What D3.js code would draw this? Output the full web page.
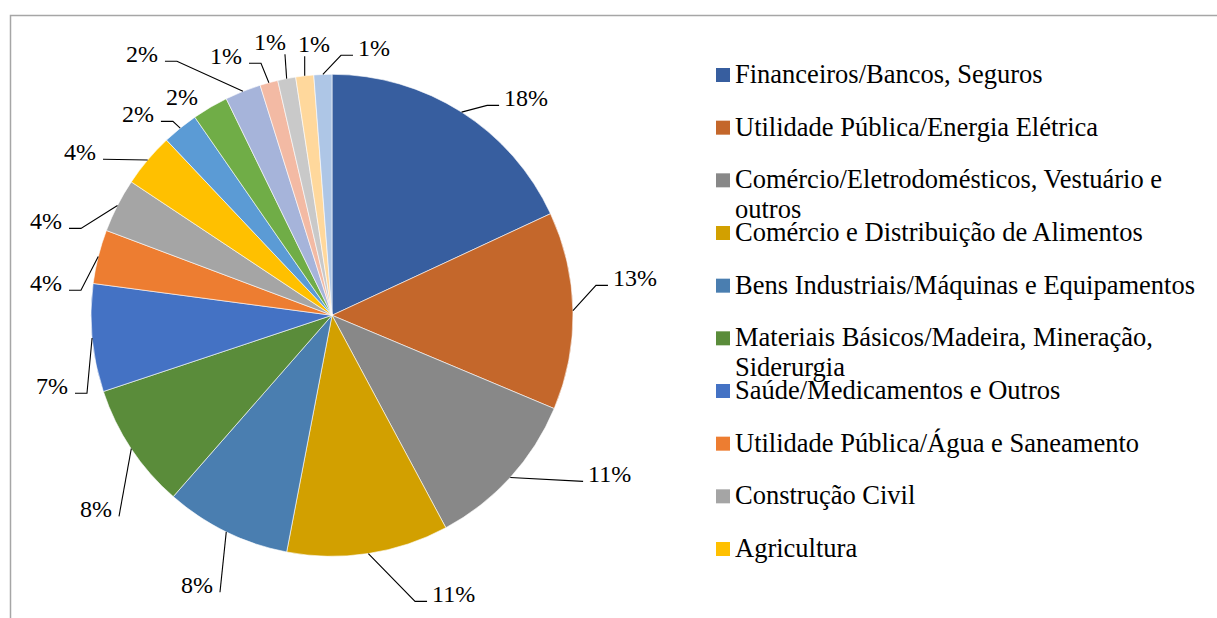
<!DOCTYPE html>
<html>
<head>
<meta charset="utf-8">
<script src="https://cdn.jsdelivr.net/npm/d3@7"></script>
<style>
  html, body { margin: 0; padding: 0; background: #fff; overflow: hidden; }
  svg { display: block; }
</style>
</head>
<body>
<svg id="chart" width="1217" height="618"></svg>
<script>
// Sector names shown in the legend
const categories = [
  "Financeiros/Bancos, Seguros",
  "Utilidade Pública/Energia Elétrica",
  "Comércio/Eletrodomésticos, Vestuário e outros",
  "Comércio e Distribuição de Alimentos",
  "Bens Industriais/Máquinas e Equipamentos",
  "Materiais Básicos/Madeira, Mineração, Siderurgia",
  "Saúde/Medicamentos e Outros",
  "Utilidade Pública/Água e Saneamento",
  "Construção Civil",
  "Agricultura"
];

// Number of companies in each sector (slice order, clockwise from 12 o'clock)
const companies = [15, 11, 9, 9, 7, 7, 6, 3, 3, 3, 2, 2, 2, 1, 1, 1, 1];

// Slice fills
const sliceColors = [
  "#375E9F", "#C4672B", "#888888", "#D2A000", "#4A7EB0", "#5A8C3A",
  "#4472C4", "#ED7D31", "#A5A5A5", "#FFC000", "#5B9BD5", "#70AD47",
  "#A6B4DA", "#F3BAA4", "#C9C9C9", "#FFD89C", "#AEC6E6"
];

// Data-label placement: offset of the label from the slice's outer midpoint,
// text anchoring, and how the leader line is routed.
const labelLayout = [
  { anchor: "start", dx: 42.5,  dy: -5.7,  leader: "shelf" },
  { anchor: "start", dx: 40,    dy: -24.4, leader: "shelf" },
  { anchor: "start", dx: 77.8,  dy: 4.9,   leader: "straight" },
  { anchor: "start", dx: 63.7,  dy: 48.8,  leader: "shelf" },
  { anchor: "end",   dx: -13.3, dy: 61.4,  leader: "straight" },
  { anchor: "end",   dx: -19.3, dy: 68.6,  leader: "straight" },
  { anchor: "end",   dx: -24.1, dy: 56.2,  leader: "shelf" },
  { anchor: "end",   dx: -36.3, dy: 34.7,  leader: "shelf" },
  { anchor: "end",   dx: -55.5, dy: 23.9,  leader: "shelf" },
  { anchor: "end",   dx: -51.7, dy: 0.3,   leader: "straight" },
  { anchor: "end",   dx: -26.3, dy: -5.7,  leader: "shelf" },
  { anchor: "end",   dx: -12.2, dy: -2,    leader: "none" },
  { anchor: "end",   dx: -85,   dy: -29.1, leader: "shelf" },
  { anchor: "end",   dx: -26.9, dy: -18.4, leader: "shelf" },
  { anchor: "end",   dx: -0.7,  dy: -28.3, leader: "up" },
  { anchor: "start", dx: -6.7,  dy: -23.6, leader: "up" },
  { anchor: "start", dx: 35.1,  dy: -18.2, leader: "shelf" }
];

const FONT = "Liberation Serif";

const svg = d3.select("#chart");
const W = 1217, H = 618;

// Chart-area frame
svg.append("rect")
  .attr("x", 10.5).attr("y", 15.5)
  .attr("width", W + 20).attr("height", H + 20)
  .attr("fill", "#fff")
  .attr("stroke", "#A6A6A6")
  .attr("stroke-width", 1.5);

// Pie geometry
const cx = 332, cy = 315.3, R = 241;
const total = d3.sum(companies);
const pct = v => Math.round(v / total * 100) + "%";

const pie = d3.pie().sort(null).value(d => d).startAngle(0).endAngle(2 * Math.PI);
const arcs = pie(companies);
const arc = d3.arc().innerRadius(0).outerRadius(R);
const color = d3.scaleOrdinal().domain(d3.range(companies.length)).range(sliceColors);

const g = svg.append("g").attr("transform", `translate(${cx},${cy})`);

g.selectAll("path.slice")
  .data(arcs)
  .join("path")
  .attr("class", "slice")
  .attr("d", arc)
  .attr("fill", (d, i) => color(i))
  .attr("stroke", "#fff")
  .attr("stroke-width", 0.6);

// Data labels with leader lines
arcs.forEach((d, i) => {
  const lay = labelLayout[i];
  const mid = (d.startAngle + d.endAngle) / 2;
  const px = cx + R * Math.sin(mid);
  const py = cy - R * Math.cos(mid);
  const tx = px + lay.dx, ty = py + lay.dy;

  const t = svg.append("text")
    .attr("x", tx).attr("y", ty)
    .attr("text-anchor", lay.anchor)
    .attr("font-family", FONT)
    .attr("font-size", 24)
    .text(pct(d.value));

  if (lay.leader === "none") return;
  const bb = t.node().getBBox();
  const p = d3.path();
  p.moveTo(px, py);
  if (lay.leader === "up") {
    const x = Math.max(bb.x + 1, Math.min(bb.x + bb.width - 1, px));
    p.lineTo(x, ty + 4);
  } else {
    const right = lay.anchor === "start";
    const fx = right ? bb.x - 5 : bb.x + bb.width + 7;
    const fy = ty - 1;
    if (lay.leader === "shelf") p.lineTo(fx + (right ? -12 : 12), fy);
    p.lineTo(fx, fy);
  }
  svg.append("path")
    .attr("d", p.toString())
    .attr("fill", "none")
    .attr("stroke", "#000")
    .attr("stroke-width", 1.1);
});

// Legend: one text element per line, wrapped on word boundaries
const legendX = 716, legendTextX = 735, legendMaxWidth = 472, lineGap = 30;
const rowY = d3.scaleLinear().domain([0, categories.length - 1]).range([83, 557]);

function legendLine(str, y) {
  return svg.append("text")
    .attr("x", legendTextX).attr("y", y)
    .attr("font-family", FONT)
    .attr("font-size", 26.5)
    .text(str);
}

categories.forEach((name, i) => {
  const y = rowY(i);
  svg.append("rect")
    .attr("x", legendX).attr("y", y - 15)
    .attr("width", 14).attr("height", 14)
    .attr("fill", color(i));

  const words = name.split(" ");
  let line = [];
  let lineNo = 0;
  let t = legendLine("", y);
  words.forEach(w => {
    line.push(w);
    t.text(line.join(" "));
    if (t.node().getComputedTextLength() > legendMaxWidth && line.length > 1) {
      line.pop();
      t.text(line.join(" "));
      line = [w];
      lineNo++;
      t = legendLine(w, y + lineNo * lineGap);
    }
  });
});
</script>
</body>
</html>
